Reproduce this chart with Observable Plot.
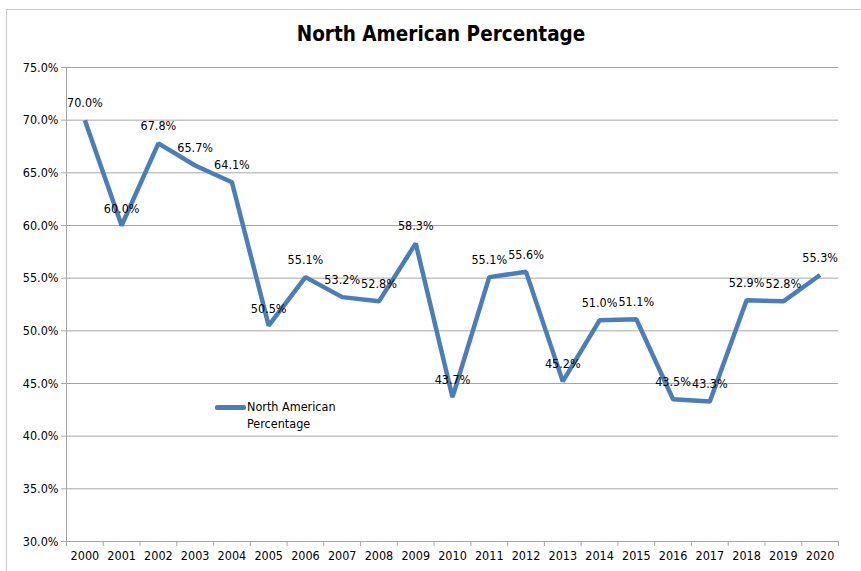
<!DOCTYPE html>
<html><head><meta charset="utf-8">
<script src="https://cdn.jsdelivr.net/npm/d3@7"></script>
<script src="https://cdn.jsdelivr.net/npm/@observablehq/plot@0.6"></script>
<style>
body{margin:0;background:#fff;font-family:"DejaVu Sans Condensed","Liberation Sans",sans-serif;}
#wrap{position:relative;width:861px;height:571px;overflow:hidden;}
#title{position:absolute;left:0;top:22px;width:882px;text-align:center;font-size:20.5px;font-weight:bold;color:#000;font-family:"DejaVu Sans Condensed",sans-serif;}
#chart{position:absolute;left:0;top:55px;}
#frame{position:absolute;left:6px;top:9px;width:900px;height:600px;border-left:1px solid #c8c8c8;border-top:1px solid #c8c8c8;z-index:2;pointer-events:none;}
#legend{position:absolute;left:215px;top:398px;font-size:12.5px;line-height:17px;color:#000;font-family:"DejaVu Sans Condensed",sans-serif;}
#legend .sw{position:absolute;left:0;top:7px;width:31px;height:5px;background:#4a7ebb;border-radius:2px;}
#legend .tx{position:absolute;left:32px;top:0;white-space:nowrap;}
</style></head>
<body>
<div id="wrap">
<div id="frame"></div>
<div id="title">North American Percentage</div>
<div id="chart"></div>
<div id="legend"><div class="sw"></div><div class="tx">North American<br>Percentage</div></div>
</div>
<script>
const years = [2000,2001,2002,2003,2004,2005,2006,2007,2008,2009,2010,2011,2012,2013,2014,2015,2016,2017,2018,2019,2020];
const values = [70.0,60.0,67.8,65.7,64.1,50.5,55.1,53.2,52.8,58.3,43.7,55.1,55.6,45.2,51.0,51.1,43.5,43.3,52.9,52.8,55.3];
const yTicks = [30,35,40,45,50,55,60,65,70,75];
const data = years.map((year,i)=>({year, value: values[i]}));
const bounds = years.map(y=>y-0.5).concat([years[years.length-1]+0.5]);
const fmt = d => d.toFixed(1) + "%";

const chart = Plot.plot({
  width: 861,
  height: 516,
  marginLeft: 66,
  marginRight: 23,
  marginTop: 12,
  marginBottom: 30,
  style: {fontFamily: '"DejaVu Sans Condensed",sans-serif', fontSize: "12px", color: "#000", background: "transparent"},
  x: {domain: [bounds[0], bounds[bounds.length-1]], label: null},
  y: {domain: [30, 75], label: null},
  marks: [
    Plot.gridY(yTicks, {stroke: "#a6a6a6", strokeOpacity: 1, strokeWidth: 1}),
    Plot.ruleX([bounds[0]], {stroke: "#a6a6a6"}),
    Plot.axisY(yTicks, {tickFormat: fmt, tickSize: 5, tickPadding: 3, stroke: "#a6a6a6", fontSize: 12.5, label: null}),
    Plot.axisX(bounds, {tickFormat: () => "", tickSize: 5, stroke: "#a6a6a6", label: null}),
    Plot.axisX(years, {tickFormat: d => String(d), tickSize: 0, tickPadding: 10, label: null, fontSize: 12.5}),
    Plot.line(data, {x: "year", y: "value", stroke: "#4a7ebb", strokeWidth: 4.5, strokeLinejoin: "miter", strokeLinecap: "butt"}),
    Plot.text(data, {x: "year", y: "value", text: d => fmt(d.value), dy: -17, fill: "#000", fontSize: 12.5})
  ]
});
document.getElementById("chart").appendChild(chart);
</script>
</body></html>
